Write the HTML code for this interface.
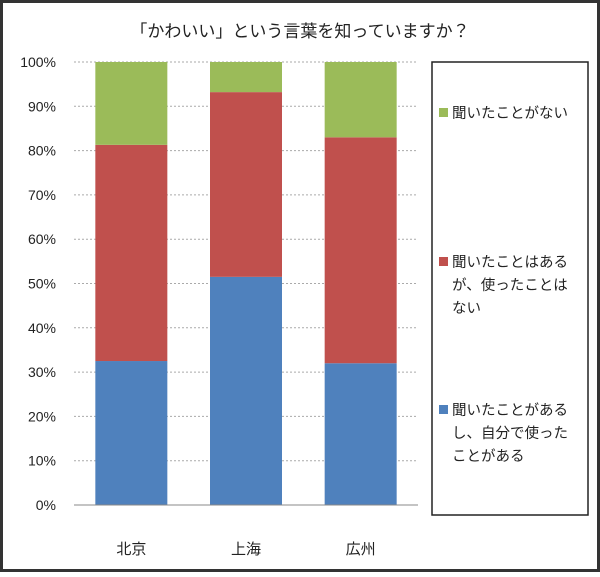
<!DOCTYPE html>
<html><head><meta charset="utf-8"><style>
body{margin:0;background:#fff;}
svg text{font-family:"Liberation Sans","Noto Sans CJK JP",sans-serif;}
</style></head><body>
<svg width="600" height="572" viewBox="0 0 600 572">
<rect x="1.5" y="1.5" width="597" height="569" fill="#fff" stroke="#333" stroke-width="3"/>
<text x="300" y="37" text-anchor="middle" font-size="17" fill="#222">「かわいい」という言葉を知っていますか？</text>
<g id="grid"></g><g id="bars"></g><g id="axes"></g>
<rect x="432" y="62" width="156" height="453" fill="#fff" stroke="#222" stroke-width="1.5"/>
<g>
<rect x="439" y="108" width="9" height="9" fill="#9bbb59"/>
<text x="452" y="118" font-size="14.5" fill="#222">聞いたことがない</text></g>
<g>
<rect x="439" y="257" width="9" height="9" fill="#c0504d"/>
<text x="452" y="267" font-size="14.5" fill="#222">聞いたことはある</text>
<text x="452" y="290" font-size="14.5" fill="#222">が、使ったことは</text>
<text x="452" y="313" font-size="14.5" fill="#222">ない</text></g>
<g>
<rect x="439" y="405" width="9" height="9" fill="#4f81bd"/>
<text x="452" y="415" font-size="14.5" fill="#222">聞いたことがある</text>
<text x="452" y="438" font-size="14.5" fill="#222">し、自分で使った</text>
<text x="452" y="461" font-size="14.5" fill="#222">ことがある</text></g>
</svg>
<script>
const categories=["北京","上海","広州"];
const usedValues=[32.5,51.5,32];
const heardValues=[48.8,41.7,51];
const neverValues=[18.7,6.8,17];
const yTicks=[0,10,20,30,40,50,60,70,80,90,100];
const NS="http://www.w3.org/2000/svg";
const x0=74,x1=418,yTop=62,yBot=505;
const y=v=>yBot-(v/100)*(yBot-yTop);
const band=(x1-x0)/categories.length, bw=72;
const xc=i=>x0+band*(i+0.5);
function mk(t,a,p){const e=document.createElementNS(NS,t);for(const k in a)e.setAttribute(k,a[k]);p.appendChild(e);return e;}
const g=document.getElementById('grid'),b=document.getElementById('bars'),ax=document.getElementById('axes');
yTicks.forEach(t=>{
 if(t>0){const l=mk('line',{x1:x0,x2:x1,y1:y(t),y2:y(t),stroke:'#aaa','stroke-dasharray':'2,2'},g);
 
 }
 const tx=mk('text',{x:56,y:y(t)+5,'text-anchor':'end','font-size':14,fill:'#222','font-family':'Liberation Serif, serif'},ax);tx.textContent=t+'%';
 
 
});
const series=[[usedValues,'#4f81bd','used'],[heardValues,'#c0504d','heard'],[neverValues,'#9bbb59','never']];
categories.forEach((c,i)=>{
 let acc=0;
 series.forEach(([vals,col,nm])=>{
  const v=vals[i];
  const r=mk('rect',{x:xc(i)-bw/2,y:y(acc+v),width:bw,height:y(acc)-y(acc+v),fill:col},b);
  
  
  acc+=v;
 });
 const t=mk('text',{x:xc(i),y:554,'text-anchor':'middle','font-size':15,fill:'#222'},ax);t.textContent=c;
 
 
});
const base=mk('line',{x1:x0,x2:x1,y1:yBot,y2:yBot,stroke:'#888'},ax);


</script>
</body></html>
